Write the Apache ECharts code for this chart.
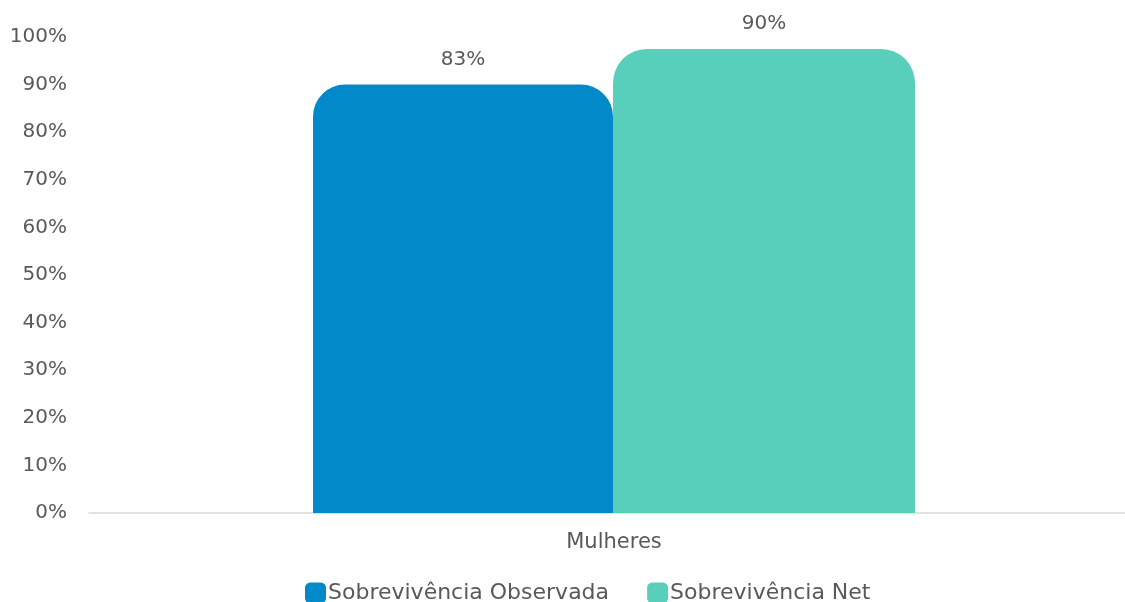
<!DOCTYPE html>
<html>
<head>
<meta charset="utf-8">
<script src="https://cdn.jsdelivr.net/npm/echarts@6/dist/echarts.min.js"></script>
<style>html,body{margin:0;padding:0;background:#fff}#c{width:1125px;height:602px}</style>
</head>
<body>
<div id="c"></div>
<script>
const categories = ["Mulheres"];
const seriesNames = ["Sobrevivência Observada", "Sobrevivência Net"];
// bar heights as drawn in the picture (fraction of 100%)
const observedHeights = [0.90];
const netHeights = [0.975];
// label texts as printed above the bars
const observedLabels = ["83%"];
const netLabels = ["90%"];
const yTicks = ["0%","10%","20%","30%","40%","50%","60%","70%","80%","90%","100%"];

const FONT = "DejaVu Sans";
const TXT = "#595959";
const chart = echarts.init(document.getElementById('c'));
chart.setOption({
  animation: false,
  textStyle: { fontFamily: FONT },
  grid: { left: 89, right: -14, top: 37, bottom: 89, containLabel: false, outerBoundsMode: 'none' },
  legend: {
    left: 300, top: 577,
    itemWidth: 21, itemHeight: 21, itemGap: 38,
    icon: 'roundRect',
    textStyle: { fontFamily: FONT, fontSize: 22, color: TXT, padding: [0,0,0,-3] },
    data: seriesNames
  },
  xAxis: {
    type: 'category', data: categories,
    axisLine: { lineStyle: { color: '#d9d9d9', width: 1.5 } },
    axisTick: { show: false },
    axisLabel: { color: TXT, fontSize: 21, margin: 19, fontFamily: FONT }
  },
  yAxis: {
    type: 'value', min: 0, max: 1, interval: 0.1,
    splitLine: { show: false },
    axisLine: { show: false }, axisTick: { show: false },
    axisLabel: { color: TXT, fontSize: 20, margin: 22, fontFamily: FONT,
      formatter: (v) => yTicks[Math.round(v * 10)] }
  },
  series: [
    {
      name: seriesNames[0], type: 'bar', data: observedHeights,
      barWidth: 300, barGap: '0%',
      itemStyle: { color: '#0189CA', borderRadius: [32, 32, 0, 0] },
      label: { show: true, position: 'top', distance: 15, color: TXT, fontSize: 20, fontFamily: FONT,
        formatter: (p) => observedLabels[p.dataIndex] }
    },
    {
      name: seriesNames[1], type: 'bar', data: netHeights,
      barWidth: 302, barGap: '0%',
      itemStyle: { color: '#58CFBA', borderRadius: [34, 34, 0, 0] },
      label: { show: true, position: 'top', distance: 15, color: TXT, fontSize: 20, fontFamily: FONT,
        formatter: (p) => netLabels[p.dataIndex] }
    }
  ]
});
</script>
</body>
</html>
